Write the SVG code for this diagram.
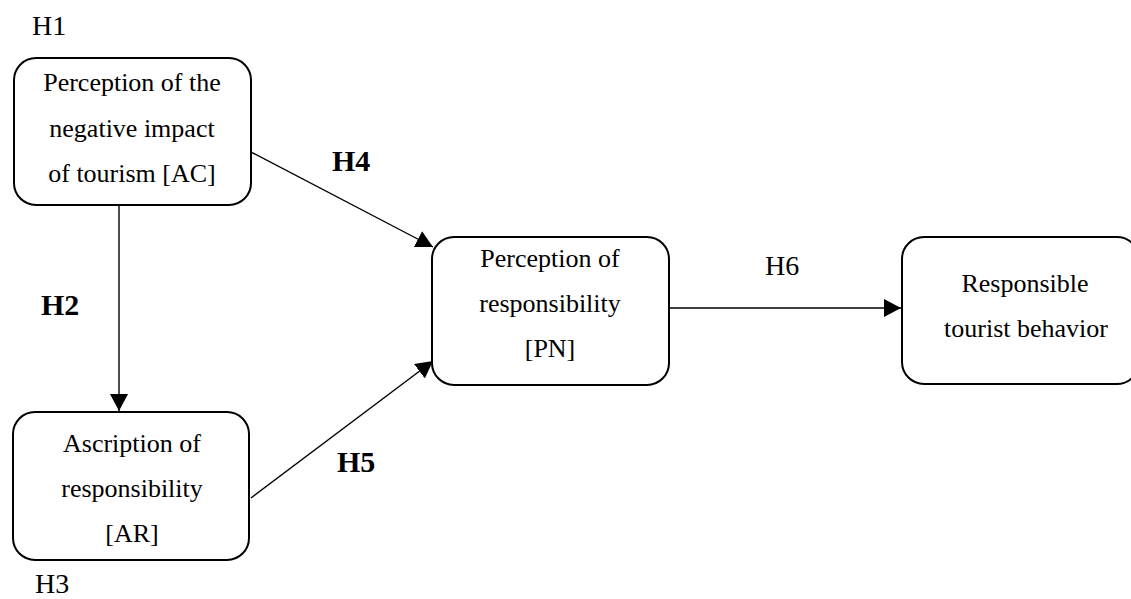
<svg xmlns="http://www.w3.org/2000/svg" width="1131" height="599" viewBox="0 0 1131 599">
  <style>
    .box { fill: #ffffff; stroke: #000000; stroke-width: 2; }
    .t { font-family: "Liberation Serif", "Times New Roman", serif; font-size: 26px; fill: #000000; text-anchor: middle; }
    .h { font-family: "Liberation Serif", "Times New Roman", serif; font-size: 28px; fill: #000000; }
    .hb { font-family: "Liberation Serif", "Times New Roman", serif; font-size: 30px; font-weight: bold; fill: #000000; }
    .edge { stroke: #000000; stroke-width: 1.4; fill: none; marker-end: url(#arr); }
  </style>
  <defs>
    <marker id="arr" markerUnits="userSpaceOnUse" markerWidth="18" markerHeight="18" viewBox="0 0 18 18" refX="17" refY="9" orient="auto">
      <path d="M0,0 L17,9 L0,18 Z" fill="#000000"/>
    </marker>
  </defs>
  <rect width="1131" height="599" fill="#ffffff"/>

  <g id="connectors">
    <line class="edge" x1="251" y1="152" x2="433" y2="247"/>
    <line class="edge" x1="119" y1="205" x2="119" y2="411"/>
    <line class="edge" x1="251" y1="498" x2="433" y2="361"/>
    <line class="edge" x1="669" y1="308" x2="901" y2="308"/>
  </g>

  <g id="labels">
    <text class="h" x="32" y="35">H1</text>
    <text class="h" x="35" y="593">H3</text>
    <text class="hb" x="41" y="315">H2</text>
    <text class="hb" x="332" y="171">H4</text>
    <text class="hb" x="337" y="472">H5</text>
    <text class="h" x="765" y="275">H6</text>
  </g>

  <g id="node-ac">
    <rect class="box" x="14" y="58" width="237" height="147" rx="22" ry="22"/>
    <text class="t" x="132" y="91">Perception of the</text>
    <text class="t" x="132" y="137">negative impact</text>
    <text class="t" x="132" y="182">of tourism [AC]</text>
  </g>

  <g id="node-ar">
    <rect class="box" x="13" y="412" width="236" height="148" rx="22" ry="22"/>
    <text class="t" x="132" y="452">Ascription of</text>
    <text class="t" x="132" y="497">responsibility</text>
    <text class="t" x="132" y="542">[AR]</text>
  </g>

  <g id="node-pn">
    <rect class="box" x="432" y="237" width="237" height="148" rx="22" ry="22"/>
    <text class="t" x="550" y="267">Perception of</text>
    <text class="t" x="550" y="312">responsibility</text>
    <text class="t" x="550" y="357">[PN]</text>
  </g>

  <g id="node-rtb">
    <rect class="box" x="902" y="237" width="237" height="147" rx="22" ry="22"/>
    <text class="t" x="1025" y="292">Responsible</text>
    <text class="t" x="1026" y="337">tourist behavior</text>
  </g>
</svg>
